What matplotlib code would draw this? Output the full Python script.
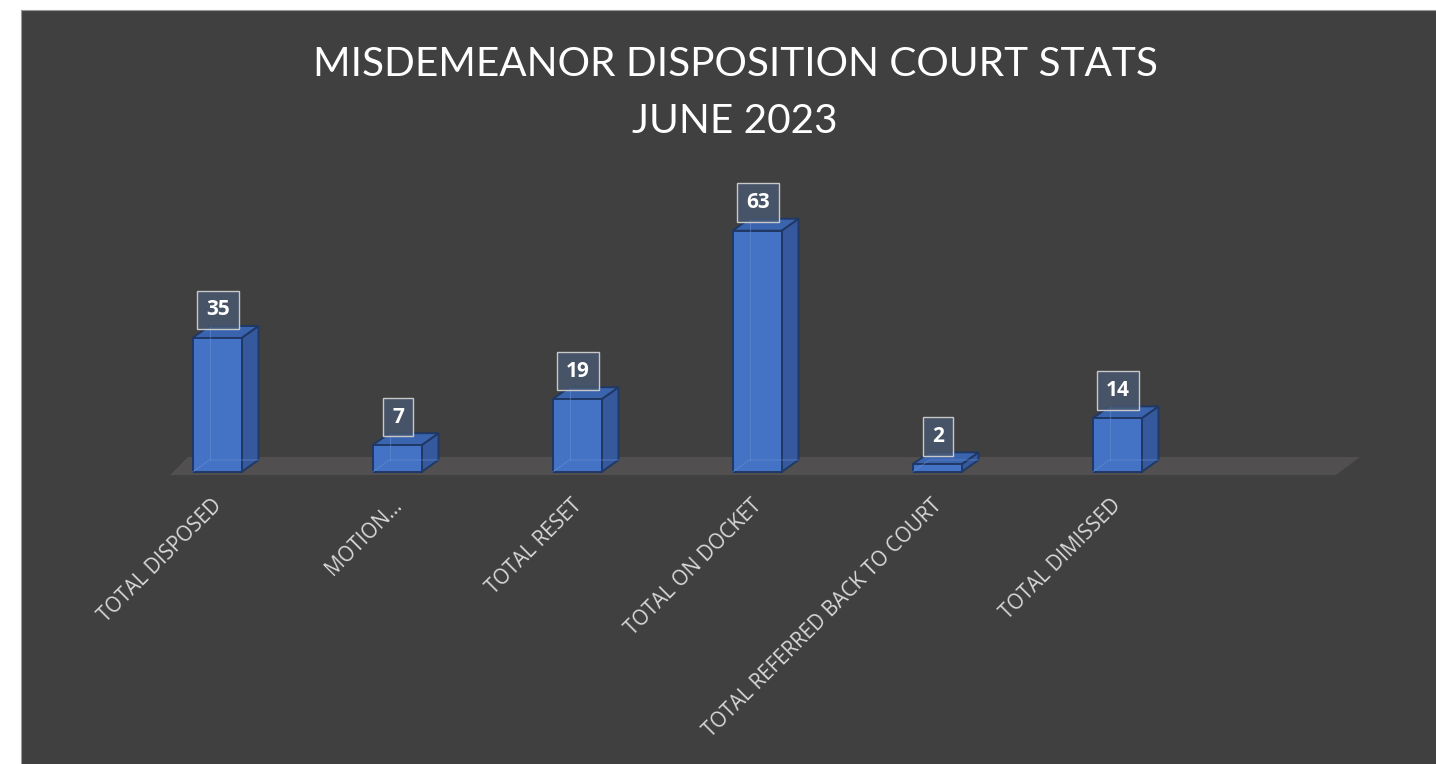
import matplotlib.pyplot as plt
from matplotlib.patches import Polygon

# --- data ---
categories = ["TOTAL DISPOSED", "MOTION...", "TOTAL RESET", "TOTAL ON DOCKET",
              "TOTAL REFERRED BACK TO COURT", "TOTAL DIMISSED"]
values = [35, 7, 19, 63, 2, 14]
title_lines = ["MISDEMEANOR DISPOSITION COURT STATS", "JUNE 2023"]

# --- look ---
BG = "#404040"
FLOOR = "#514f4f"
FRONT = "#4472c4"
SIDE = "#35599c"
TOP = "#3b64ae"
EDGE = "#1f3864"
LABEL = "#d9d9d9"

W, H = 1436, 764
PX_CAT, PX_VAL = 180.0, 3.83      # pixels per category / per unit
X0, Y0 = 217.0, 472.0             # pixel of category 0 / value 0 (from top)
BAR_W = 49 / PX_CAT
DX, DY = 17 / PX_CAT, 12 / PX_VAL  # 3d depth offset

fig = plt.figure(figsize=(W / 100, H / 100), dpi=100, facecolor="white")
ax = fig.add_axes([21 / W, 0, 1 - 21 / W, 1 - 10 / H])
ax.set_facecolor(BG)
ax.set_xlim((21 - X0) / PX_CAT, (W - X0) / PX_CAT)
ax.set_ylim(-(H - Y0) / PX_VAL, (Y0 - 10) / PX_VAL)
for s in ax.spines.values():
    s.set_visible(False)
ax.spines["left"].set_visible(True); ax.spines["top"].set_visible(True)
ax.spines["left"].set_color("#9a9a9a"); ax.spines["top"].set_color("#9a9a9a")
ax.set_xticks([]); ax.set_yticks([])

# floor
fl = [((170 - X0) / PX_CAT, -3 / PX_VAL), ((1336 - X0) / PX_CAT, -3 / PX_VAL),
      ((1360 - X0) / PX_CAT, 15 / PX_VAL), ((188 - X0) / PX_CAT, 15 / PX_VAL)]
ax.add_patch(Polygon(fl, closed=True, fc=FLOOR, ec="none", zorder=1))

xs = list(range(len(values)))
ax.bar(xs, values, width=BAR_W, color=FRONT, edgecolor=EDGE, linewidth=1.4, zorder=4)
for i, v in zip(xs, values):
    l, r = i - BAR_W / 2, i + BAR_W / 2
    side = [(r, 0), (r + DX, DY), (r + DX, v + DY), (r, v)]
    top = [(l, v), (r, v), (r + DX, v + DY), (l + DX, v + DY)]
    ax.add_patch(Polygon(side, closed=True, fc=SIDE, ec=EDGE, lw=1.4, zorder=3))
    ax.add_patch(Polygon(top, closed=True, fc=TOP, ec=EDGE, lw=1.4, zorder=3))
    # faint hidden edges seen through the glassy faces
    ax.plot([l, l + DX, r + DX], [0, DY, DY], color="#6f95d8", lw=0.8, alpha=0.45, zorder=5)
    ax.plot([l + DX, l + DX], [DY, v + DY if v > 3 else DY], color="#6f95d8", lw=0.8, alpha=0.45, zorder=5)

    ax.text(i + 1 / PX_CAT, v + 28 / PX_VAL, str(v), ha="center", va="center",
            color="white", fontsize=15, fontweight="bold", family="Open Sans", zorder=7,
            bbox=dict(boxstyle="square,pad=0.42", fc=(0.29, 0.35, 0.44, 0.8),
                      ec="#c8c8c8", lw=1.0))

for i, c in zip(xs, categories):
    ax.text(i - 6 / PX_CAT, -23 / PX_VAL, c, rotation=45, rotation_mode="anchor",
            ha="right", va="top", color=LABEL, fontsize=14.8, family="Open Sans", zorder=6)

fig.text(735 / W, 1 - 75.7 / H, title_lines[0], ha="center", va="baseline",
         color="white", fontsize=29.2, family="Lato")
fig.text(735 / W, 1 - 132.7 / H, title_lines[1], ha="center", va="baseline",
         color="white", fontsize=29.2, family="Lato")

fig.savefig("out.png", dpi=100, facecolor="white")
